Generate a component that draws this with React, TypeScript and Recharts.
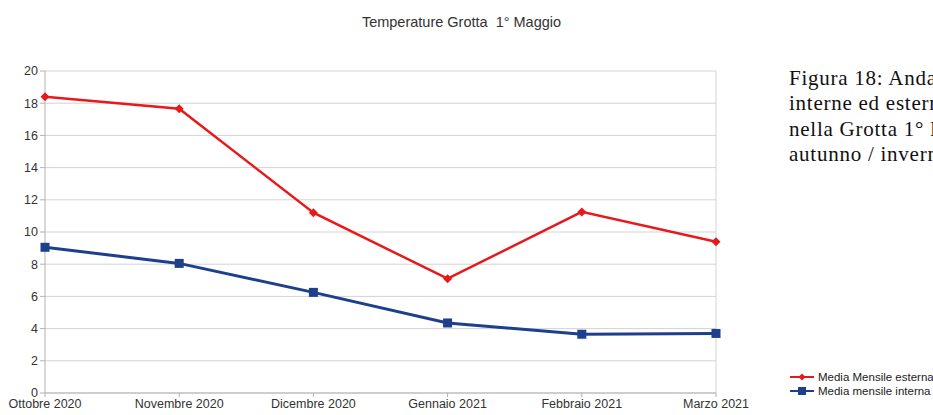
import { LineChart, Line, XAxis, YAxis, CartesianGrid, ReferenceLine } from 'recharts'

const months = ['Ottobre 2020', 'Novembre 2020', 'Dicembre 2020', 'Gennaio 2021', 'Febbraio 2021', 'Marzo 2021']
const esterna = [18.4, 17.65, 11.2, 7.1, 11.25, 9.4]
const interna = [9.05, 8.05, 6.25, 4.35, 3.65, 3.7]
const yTicks = [0, 2, 4, 6, 8, 10, 12, 14, 16, 18, 20]
const captionLines = [
  'Figura 18: Andamento',
  'interne ed esterne',
  'nella Grotta 1° Maggio',
  'autunno / inverno',
]

const RED = '#e8191b'
const BLUE = '#1d3f8c'
const FONT = '"Liberation Sans", Arial, sans-serif'

const data = months.map((m, i) => ({ month: m, esterna: esterna[i], interna: interna[i] }))

function Diamond({ cx, cy }: any) {
  if (cx == null || cy == null) return null
  const r = 4.5
  return <path d={`M${cx},${cy - r}L${cx + r},${cy}L${cx},${cy + r}L${cx - r},${cy}Z`} fill={RED} />
}

function Square({ cx, cy }: any) {
  if (cx == null || cy == null) return null
  const s = 9
  return <rect x={cx - s / 2} y={cy - s / 2} width={s} height={s} fill={BLUE} />
}

export default function App() {
  return (
    <div style={{ position: 'absolute', left: 0, top: 0, width: 933, height: 415, overflow: 'hidden', background: '#fff' }}>
      <div
        style={{
          position: 'absolute', left: 0, width: 923, top: 14, textAlign: 'center',
          fontFamily: FONT, fontSize: 14.5, color: '#333', whiteSpace: 'pre',
        }}
      >
        {'Temperature Grotta  1° Maggio'}
      </div>

      <LineChart width={933} height={415} data={data} margin={{ top: 71, right: 217, bottom: 0, left: 0 }}>
        <CartesianGrid stroke="#d3d3d3" vertical={false} />
        <ReferenceLine x="Marzo 2021" stroke="#d3d3d3" />
        <XAxis
          dataKey="month"
          height={22}
          interval={0}
          tick={{ fill: '#333', fontSize: 12.5, fontFamily: FONT }}
          tickLine={{ stroke: '#b3b3b3' }}
          tickSize={4}
          axisLine={{ stroke: '#b3b3b3' }}
        />
        <YAxis
          width={45}
          domain={[0, 20]}
          ticks={yTicks}
          interval={0}
          tick={{ fill: '#333', fontSize: 12.5, fontFamily: FONT }}
          tickLine={{ stroke: '#b3b3b3' }}
          tickSize={5}
          axisLine={{ stroke: '#b3b3b3' }}
        />
        <Line dataKey="esterna" stroke={RED} strokeWidth={2.5} dot={<Diamond />} activeDot={false} isAnimationActive={false} />
        <Line dataKey="interna" stroke={BLUE} strokeWidth={3} dot={<Square />} activeDot={false} isAnimationActive={false} />
      </LineChart>

      <div
        style={{
          position: 'absolute', left: 789, top: 66, fontFamily: '"Liberation Serif", serif',
          fontSize: 21, letterSpacing: 0.75, lineHeight: '25.3px', color: '#111', whiteSpace: 'nowrap',
        }}
      >
        {captionLines.map((l) => (
          <div key={l}>{l}</div>
        ))}
      </div>

      <div style={{ position: 'absolute', left: 789, top: 370, fontFamily: FONT, fontSize: 11.5, color: '#222', whiteSpace: 'nowrap' }}>
        {[
          { label: 'Media Mensile esterna', color: RED, shape: 'diamond' },
          { label: 'Media mensile interna', color: BLUE, shape: 'square' },
        ].map((it) => (
          <div key={it.label} style={{ display: 'flex', alignItems: 'center', height: 14 }}>
            <svg width={26} height={12}>
              <line x1={1} x2={25} y1={6} y2={6} stroke={it.color} strokeWidth={2} />
              {it.shape === 'diamond' ? (
                <path d="M13,2.5L16.5,6L13,9.5L9.5,6Z" fill={it.color} />
              ) : (
                <rect x={9} y={2} width={8} height={8} fill={it.color} />
              )}
            </svg>
            <span style={{ marginLeft: 3 }}>{it.label}</span>
          </div>
        ))}
      </div>
    </div>
  )
}
